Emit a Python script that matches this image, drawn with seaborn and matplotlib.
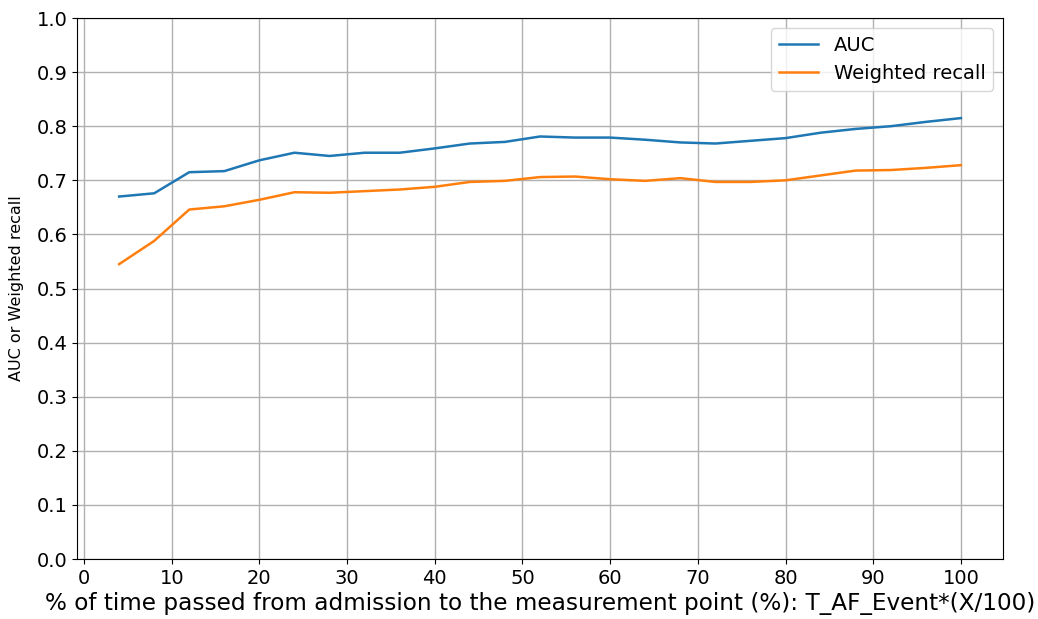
import matplotlib
matplotlib.use("Agg")
import matplotlib.pyplot as plt
import seaborn as sns
import pandas as pd

# Percent of time from admission to the measurement point
pct_time = [4, 8, 12, 16, 20, 24, 28, 32, 36, 40, 44, 48, 52,
            56, 60, 64, 68, 72, 76, 80, 84, 88, 92, 96, 100]

auc = [0.670, 0.676, 0.715, 0.717, 0.737, 0.751, 0.745, 0.751, 0.751,
       0.759, 0.768, 0.771, 0.781, 0.779, 0.779, 0.775, 0.770, 0.768,
       0.773, 0.778, 0.788, 0.795, 0.800, 0.808, 0.815]

weighted_recall = [0.545, 0.588, 0.646, 0.652, 0.664, 0.678, 0.677, 0.680,
                   0.683, 0.688, 0.697, 0.699, 0.706, 0.707, 0.702, 0.699,
                   0.704, 0.697, 0.697, 0.700, 0.709, 0.718, 0.719, 0.723,
                   0.728]

df = pd.DataFrame({"x": pct_time, "AUC": auc, "Weighted recall": weighted_recall})
long = df.melt(id_vars="x", var_name="metric", value_name="value")

fig = plt.figure(figsize=(10.38, 6.19), dpi=100)
ax = fig.add_axes([0.0742, 0.0969, 0.8921, 0.874])

sns.lineplot(data=long, x="x", y="value", hue="metric",
             palette=["#1f77b4", "#ff7f0e"], linewidth=1.8, ax=ax)

ax.set_ylim(0, 1.0)
ax.set_yticks([i / 10 for i in range(11)])
ax.set_xticks(range(0, 101, 10))
ax.grid(True, color="#b0b0b0", linewidth=1.0)
ax.tick_params(labelsize=14)
ax.set_xlabel("% of time passed from admission to the measurement point (%): T_AF_Event*(X/100)",
              fontsize=16.7, labelpad=3)
ax.set_ylabel("AUC or Weighted recall", fontsize=11.5, labelpad=9)
ax.legend(title=None, fontsize=14, loc="upper right")

fig.savefig("out.png", dpi=100)
